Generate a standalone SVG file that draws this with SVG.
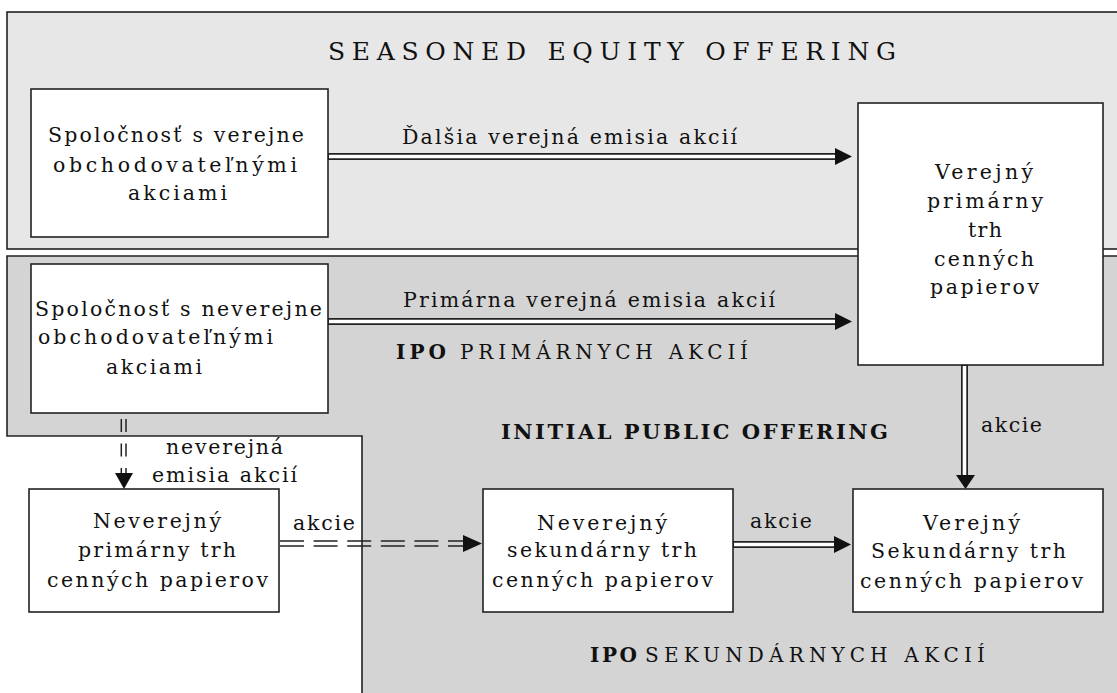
<svg xmlns="http://www.w3.org/2000/svg" width="1117" height="693" viewBox="0 0 1117 693">
<style>
text{font-family:"DejaVu Serif","Liberation Serif",serif;fill:#111;font-size:20.5px}
.t{font-size:25px}
.i{font-size:20px}
.h{font-size:21px;font-weight:bold}
.box{fill:#fff;stroke:#222;stroke-width:1.6}
.pan{stroke:#222;stroke-width:1.6}
.b{font-weight:bold}
.dl{stroke:#222;stroke-width:7;fill:none}
.dw{stroke:#fff;stroke-width:3.6;fill:none}
.dd{stroke:#222;stroke-width:1.5;fill:none}
.ah{fill:#111}
</style>
<g id="panel-seo">
<rect class="pan" x="7" y="12" width="1120" height="237" fill="#e7e7e7"/>
<text class="t" x="328" y="60" textLength="568" lengthAdjust="spacing">SEASONED EQUITY OFFERING</text>
</g>
<g id="panel-ipo">
<polygon class="pan" points="7,256 1125,256 1125,700 362,700 362,436 7,436" fill="#d4d4d4"/>
<text class="i b" x="396" y="359" textLength="50" lengthAdjust="spacing">IPO</text>
<text class="i" x="460" y="359" textLength="288" lengthAdjust="spacing">PRIMÁRNYCH AKCIÍ</text>
<text class="h" x="501" y="439" textLength="387" lengthAdjust="spacing">INITIAL PUBLIC OFFERING</text>
<text class="i b" x="590" y="662" textLength="47" lengthAdjust="spacing">IPO</text>
<text class="i" x="645" y="662" textLength="340" lengthAdjust="spacing">SEKUNDÁRNYCH AKCIÍ</text>
</g>
<g id="connectors">
<line class="dl" x1="328" y1="156.5" x2="838" y2="156.5"/>
<line class="dw" x1="329" y1="156.5" x2="839" y2="156.5"/>
<polygon class="ah" points="835,148 852,156.5 835,165"/>
<line class="dl" x1="328" y1="321.5" x2="838" y2="321.5"/>
<line class="dw" x1="329" y1="321.5" x2="839" y2="321.5"/>
<polygon class="ah" points="835,313 852,321.5 835,330"/>
<line class="dl" x1="964.5" y1="365" x2="964.5" y2="477"/>
<line class="dw" x1="964.5" y1="366" x2="964.5" y2="478"/>
<polygon class="ah" points="956,475 975,475 965.5,489"/>
<line class="dl" x1="733" y1="544.5" x2="836" y2="544.5"/>
<line class="dw" x1="734" y1="544.5" x2="837" y2="544.5"/>
<polygon class="ah" points="834,536 851,544.5 834,553"/>
<line class="dd" x1="121.3" y1="419" x2="121.3" y2="476" stroke-dasharray="13 11.5"/>
<line class="dd" x1="126" y1="419" x2="126" y2="476" stroke-dasharray="13 11.5"/>
<polygon class="ah" points="115,473 133,473 124,489"/>
<line class="dd" x1="280" y1="541" x2="466" y2="541" stroke-dasharray="24 9.6"/>
<line class="dd" x1="280" y1="546" x2="466" y2="546" stroke-dasharray="24 9.6"/>
<polygon class="ah" points="463,535 482,543.5 463,552"/>
<text x="402" y="144" textLength="335" lengthAdjust="spacing">Ďalšia verejná emisia akcií</text>
<text x="403" y="307" textLength="372" lengthAdjust="spacing">Primárna verejná emisia akcií</text>
<text x="981" y="432" textLength="61" lengthAdjust="spacing">akcie</text>
<text x="166" y="454" textLength="117" lengthAdjust="spacing">neverejná</text>
<text x="152" y="482" textLength="145" lengthAdjust="spacing">emisia akcií</text>
<text x="293" y="530" textLength="62" lengthAdjust="spacing">akcie</text>
<text x="750" y="528" textLength="62" lengthAdjust="spacing">akcie</text>
</g>
<g id="node-spolocnost-verejne">
<rect class="box" x="31" y="89" width="297" height="148"/>
<text x="48" y="142" textLength="256" lengthAdjust="spacing">Spoločnosť s verejne</text>
<text x="53" y="172" textLength="244" lengthAdjust="spacing">obchodovateľnými</text>
<text x="128" y="200" textLength="99" lengthAdjust="spacing">akciami</text>
</g>
<g id="node-verejny-primarny">
<rect class="box" x="858" y="103" width="245" height="262"/>
<text x="935" y="179" textLength="98" lengthAdjust="spacing">Verejný</text>
<text x="927" y="208" textLength="116" lengthAdjust="spacing">primárny</text>
<text x="968" y="237" textLength="34" lengthAdjust="spacing">trh</text>
<text x="934" y="266" textLength="100" lengthAdjust="spacing">cenných</text>
<text x="930" y="294" textLength="109" lengthAdjust="spacing">papierov</text>
</g>
<g id="node-spolocnost-neverejne">
<rect class="box" x="31" y="264" width="297" height="149"/>
<text x="35" y="316" textLength="287" lengthAdjust="spacing">Spoločnosť s neverejne</text>
<text x="38" y="344" textLength="235" lengthAdjust="spacing">obchodovateľnými</text>
<text x="106" y="374" textLength="96" lengthAdjust="spacing">akciami</text>
</g>
<g id="node-neverejny-primarny">
<rect class="box" x="29" y="489" width="250" height="123"/>
<text x="93" y="528" textLength="128" lengthAdjust="spacing">Neverejný</text>
<text x="78" y="557" textLength="158" lengthAdjust="spacing">primárny trh</text>
<text x="47" y="587" textLength="221" lengthAdjust="spacing">cenných papierov</text>
</g>
<g id="node-neverejny-sekundarny">
<rect class="box" x="483" y="489" width="250" height="123"/>
<text x="537" y="530" textLength="130" lengthAdjust="spacing">Neverejný</text>
<text x="507" y="557" textLength="190" lengthAdjust="spacing">sekundárny trh</text>
<text x="492" y="587" textLength="221" lengthAdjust="spacing">cenných papierov</text>
</g>
<g id="node-verejny-sekundarny">
<rect class="box" x="853" y="489" width="250" height="123"/>
<text x="923" y="530" textLength="97" lengthAdjust="spacing">Verejný</text>
<text x="871" y="558" textLength="195" lengthAdjust="spacing">Sekundárny trh</text>
<text x="860" y="588" textLength="223" lengthAdjust="spacing">cenných papierov</text>
</g>
</svg>
